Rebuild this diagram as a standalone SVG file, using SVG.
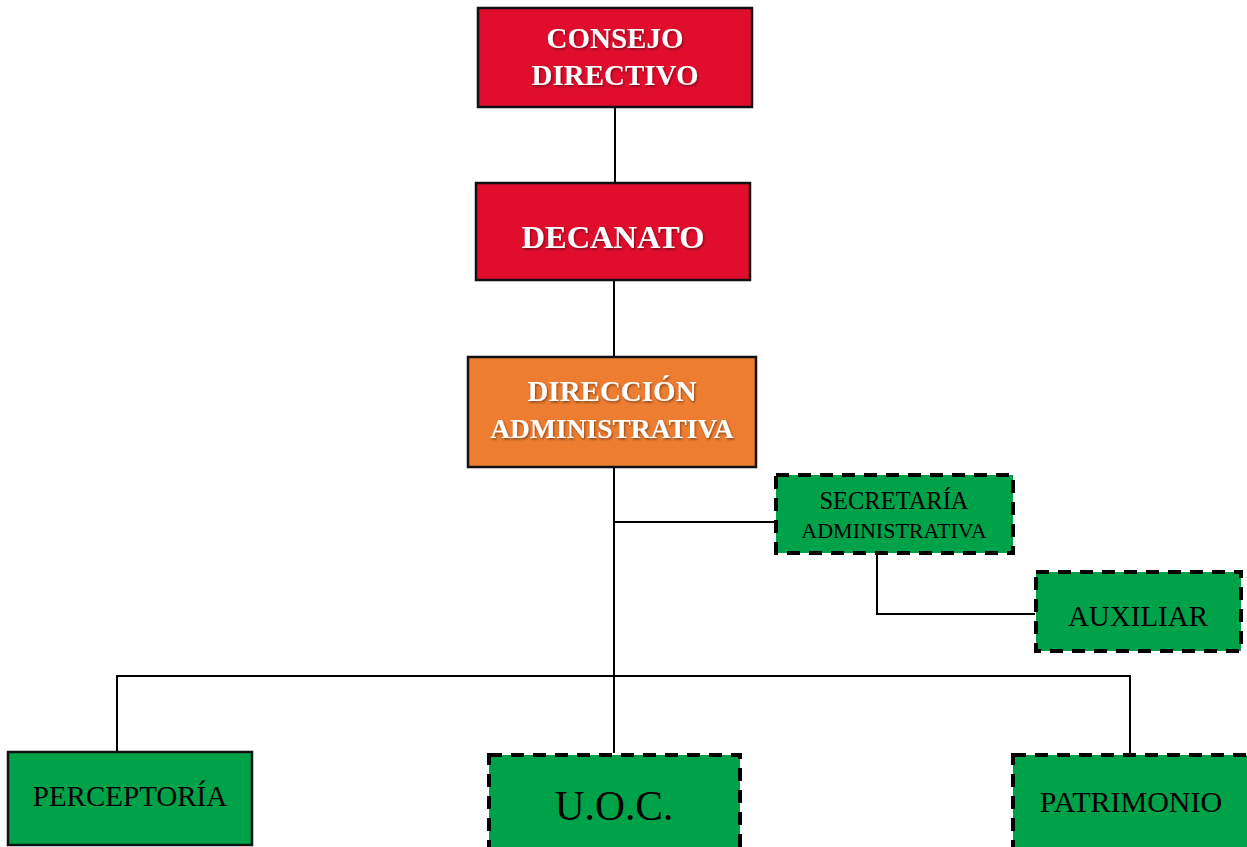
<svg xmlns="http://www.w3.org/2000/svg" width="1247" height="847" viewBox="0 0 1247 847">
  <defs>
    <filter id="txtShadow" x="-10%" y="-20%" width="120%" height="150%">
      <feDropShadow dx="1" dy="1.5" stdDeviation="0.8" flood-color="#000" flood-opacity="0.45"/>
    </filter>
  </defs>
  <style>
    .red { fill: #E00D2D; stroke: #111; stroke-width: 2.5; }
    .orange { fill: #ED7D31; stroke: #111; stroke-width: 2.5; }
    .green { fill: #00A249; stroke: #111; stroke-width: 2.5; }
    .dash { fill: #00A249; stroke: #000; stroke-width: 4; stroke-dasharray: 13 9; }
    .head { font-family: "Liberation Serif", "Times New Roman", serif; font-weight: bold; fill: #fff; text-anchor: middle; filter: url(#txtShadow); }
    .lbl { font-family: "Liberation Serif", "Times New Roman", serif; fill: #000; text-anchor: middle; }
    .wire { fill: none; stroke: #000; stroke-width: 2; }
  </style>

  <!-- connectors -->
  <g id="connectors">
    <line class="wire" x1="615" y1="107" x2="615" y2="183"/>
    <line class="wire" x1="614" y1="280" x2="614" y2="357"/>
    <line class="wire" x1="614" y1="467" x2="614" y2="753"/>
    <line class="wire" x1="614" y1="522" x2="775" y2="522"/>
    <polyline class="wire" points="877,553 877,614 1035,614"/>
    <line class="wire" x1="116" y1="676" x2="1131" y2="676"/>
    <line class="wire" x1="117" y1="676" x2="117" y2="751"/>
    <line class="wire" x1="1130" y1="676" x2="1130" y2="753"/>
  </g>

  <g id="consejo-directivo">
    <rect class="red" x="478" y="8" width="274" height="99"/>
    <text class="head" x="615" y="48" font-size="29">CONSEJO</text>
    <text class="head" x="615" y="85" font-size="29">DIRECTIVO</text>
  </g>

  <g id="decanato">
    <rect class="red" x="476" y="183" width="274" height="97"/>
    <text class="head" x="613" y="248" font-size="32.5">DECANATO</text>
  </g>

  <g id="direccion-administrativa">
    <rect class="orange" x="468" y="357" width="288" height="110"/>
    <text class="head" x="612" y="401" font-size="29">DIRECCIÓN</text>
    <text class="head" x="612" y="438" font-size="27.5">ADMINISTRATIVA</text>
  </g>

  <g id="secretaria-administrativa">
    <rect class="dash" x="776" y="475" width="237" height="78"/>
    <text class="lbl" x="894" y="509" font-size="24.5">SECRETARÍA</text>
    <text class="lbl" x="894" y="538" font-size="22">ADMINISTRATIVA</text>
  </g>

  <g id="auxiliar">
    <rect class="dash" x="1036" y="572" width="205" height="79"/>
    <text class="lbl" x="1138" y="626" font-size="29">AUXILIAR</text>
  </g>

  <g id="perceptoria">
    <rect class="green" x="8" y="752" width="244" height="93"/>
    <text class="lbl" x="130" y="806" font-size="29">PERCEPTORÍA</text>
  </g>

  <g id="uoc">
    <rect class="dash" x="489" y="755" width="251" height="95"/>
    <text class="lbl" x="614" y="820" font-size="41.5">U.O.C.</text>
  </g>

  <g id="patrimonio">
    <rect class="dash" x="1013" y="755" width="240" height="95"/>
    <text class="lbl" x="1131" y="812" font-size="30">PATRIMONIO</text>
  </g>
</svg>
